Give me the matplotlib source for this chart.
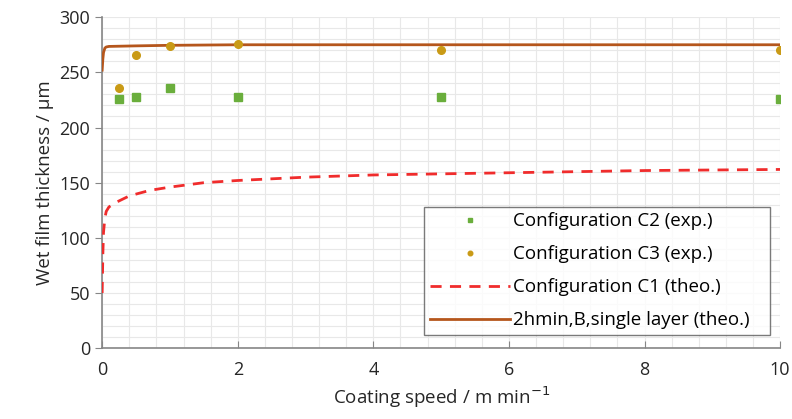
import matplotlib
matplotlib.use("Agg")
import matplotlib.pyplot as plt
from matplotlib.ticker import MultipleLocator

plt.rcParams['font.family'] = ['Open Sans', 'DejaVu Sans']

# experimental points
speed_exp = [0.25, 0.5, 1, 2, 5, 10]
c2_exp = [226, 228, 236, 228, 228, 226]
c3_exp = [236, 266, 274, 276, 270, 270]

# theoretical curves
speed_c1 = [0.0, 0.01, 0.02, 0.04, 0.06, 0.1, 0.2, 0.4, 0.7, 1.0, 1.5, 2.0, 3.0, 4.0, 5.0, 6.0, 7.0, 8.0, 9.0, 10.0]
c1_theo = [50, 85, 105, 118, 124, 128, 132, 138, 143, 146, 150, 152, 155, 157, 158, 159, 160, 161, 161.5, 162]
speed_hmin = [0.0, 0.01, 0.02, 0.04, 0.06, 0.1, 0.5, 1.0, 2.0, 5.0, 10.0]
hmin_theo = [252, 262, 268, 272, 273, 273.5, 274, 274.5, 275, 275, 275]

fig = plt.figure(figsize=(7.92, 4.19), dpi=100)
ax = fig.add_axes([0.129, 0.169, 0.856, 0.790])

ax.plot(speed_exp, c2_exp, 's', color='#6aae3c', markersize=6, label='Configuration C2 (exp.)', zorder=4)
ax.plot(speed_exp, c3_exp, 'o', color='#c99a16', markersize=5.5, label='Configuration C3 (exp.)', zorder=4)
ax.plot(speed_c1, c1_theo, '--', color='#f02c2c', linewidth=2, dashes=(4, 3), label='Configuration C1 (theo.)', zorder=3)
ax.plot(speed_hmin, hmin_theo, '-', color='#b5561c', linewidth=2, label='2hmin,B,single layer (theo.)   ', zorder=3)

ax.set_xlim(0, 10)
ax.set_ylim(0, 300)
ax.xaxis.set_major_locator(MultipleLocator(2))
ax.xaxis.set_minor_locator(MultipleLocator(0.4))
ax.yaxis.set_major_locator(MultipleLocator(50))
ax.yaxis.set_minor_locator(MultipleLocator(10))
ax.grid(which='both', color='#e8e8e8', linewidth=0.8)
ax.set_axisbelow(True)

for s in ['top', 'right']:
    ax.spines[s].set_visible(False)
for s in ['left', 'bottom']:
    ax.spines[s].set_color('#868686')
    ax.spines[s].set_linewidth(1.2)

ax.tick_params(axis='x', which='major', direction='in', length=5, color='#868686', labelsize=13, pad=9, labelcolor='#262626')
ax.tick_params(axis='y', which='major', direction='out', length=5, color='#868686', labelsize=13, labelcolor='#262626')
ax.tick_params(which='minor', length=0)

ax.set_xlabel('Coating speed / m min$^{-1}$', fontsize=13.5, color='#262626', labelpad=4)
ax.set_ylabel('Wet film thickness / µm', fontsize=13.5, color='#262626', labelpad=4)

leg = ax.legend(loc='lower right', bbox_to_anchor=(0.985, 0.04), fontsize=13.5, frameon=True,
                fancybox=False, edgecolor='#595959', handlelength=4.3, handletextpad=0.15,
                borderpad=0.3, borderaxespad=0, labelspacing=0.8, markerscale=0.6)
leg.get_frame().set_linewidth(1.0)

fig.savefig('out.png', dpi=100)
